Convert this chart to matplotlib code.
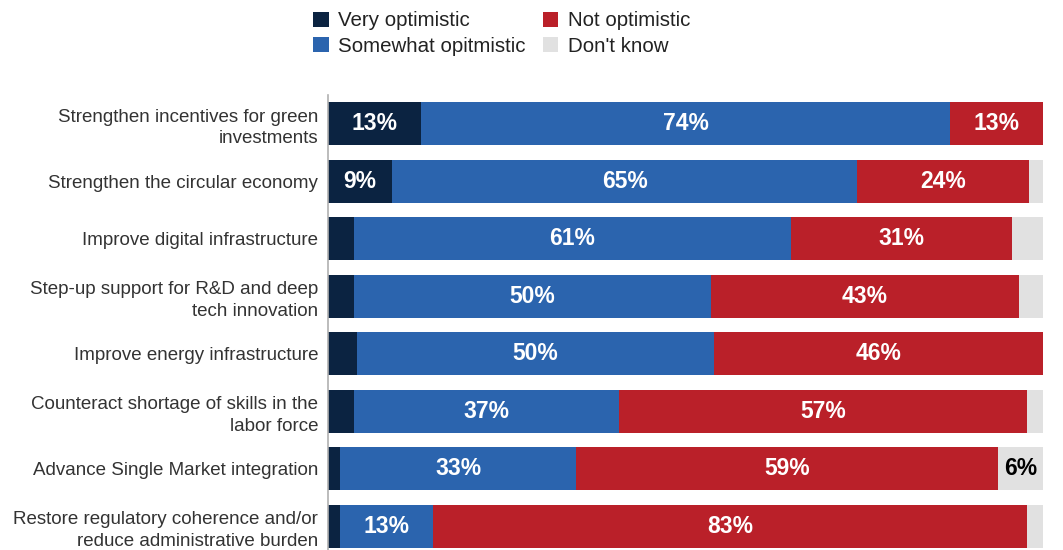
import numpy as np
import matplotlib.pyplot as plt

plt.rcParams['font.family'] = ['Liberation Sans', 'DejaVu Sans']

categories = [
    "Strengthen incentives for green\ninvestments",
    "Strengthen the circular economy",
    "Improve digital infrastructure",
    "Step-up support for R&D and deep\ntech innovation",
    "Improve energy infrastructure",
    "Counteract shortage of skills in the\nlabor force",
    "Advance Single Market integration",
    "Restore regulatory coherence and/or\nreduce administrative burden",
]
very = [13, 9, 3.7, 3.6, 4, 3.7, 1.7, 1.7]
somewhat = [74, 65, 61, 50, 50, 37, 33, 13]
not_opt = [13, 24, 31, 43, 46, 57, 59, 83]
dont_know = [0, 2, 4.3, 3.4, 0, 2.3, 6.3, 2.3]

# which segments carry a printed value
show_very = [True, True, False, False, False, False, False, False]
show_dk = [False, False, False, False, False, False, True, False]

series = [
    ("Very optimistic", very, "#0b2341"),
    ("Somewhat opitmistic", somewhat, "#2b64ae"),
    ("Not optimistic", not_opt, "#ba2029"),
    ("Don't know", dont_know, "#e1e1e1"),
]

fig = plt.figure(figsize=(10.63, 5.5), dpi=100)
ax = fig.add_axes([328 / 1063, 0, (1043 - 328) / 1063, 1 - 95 / 550])

y = np.arange(len(categories))
left = np.zeros(len(categories))
handles = []
for name, vals, col in series:
    vals = np.array(vals, dtype=float)
    h = ax.barh(y, vals, left=left, height=0.75, color=col, label=name)
    handles.append(h)
    for i, v in enumerate(vals):
        cx = left[i] + v / 2
        lbl = None
        if name == "Very optimistic" and show_very[i]:
            lbl, tc = f"{v:.0f}%", 'white'
        elif name in ("Somewhat opitmistic", "Not optimistic"):
            lbl, tc = f"{v:.0f}%", 'white'
        elif name == "Don't know" and show_dk[i]:
            lbl, tc = "6%", 'black'
        if lbl:
            ax.text(cx, y[i], lbl, ha='center', va='center',
                    color=tc, fontsize=16.5, fontweight='bold')
    left += vals

ax.set_xlim(0, 100)
ax.set_ylim(7.41, -0.5)
ax.set_yticks(y)
ax.set_yticklabels(categories, fontsize=13.5, color='#333333')
for t in ax.get_yticklabels():
    t.set_linespacing(1.35)
ax.tick_params(axis='y', length=0, pad=7)
ax.set_xticks([])
for s in ['top', 'right', 'bottom']:
    ax.spines[s].set_visible(False)
ax.spines['left'].set_color('#b0b0b0')
ax.spines['left'].set_linewidth(1.2)

leg = fig.legend(handles=handles, loc='upper left',
                 bbox_to_anchor=(305 / 1063, 1 - 3 / 550),
                 ncol=2, frameon=False, fontsize=14.8, handlelength=0.75,
                 handleheight=0.75, handletextpad=0.45, columnspacing=0.85,
                 labelspacing=0.32, borderaxespad=0)
for t in leg.get_texts():
    t.set_color('#222222')

fig.savefig("out.png", dpi=100)
